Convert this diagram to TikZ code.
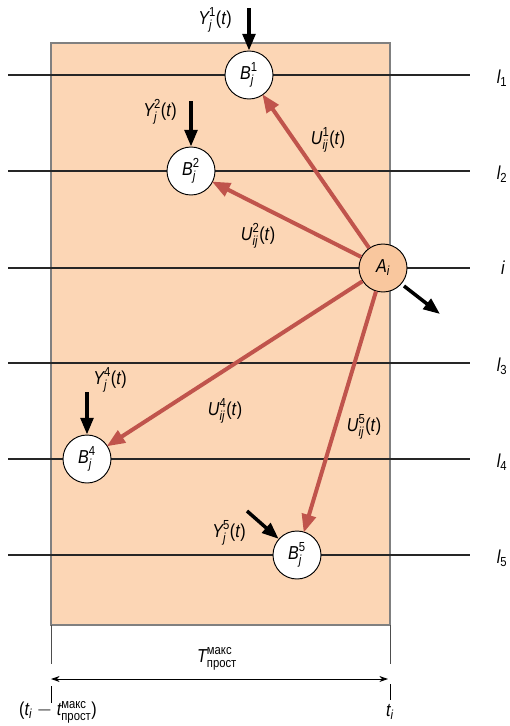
\documentclass[tikz,border=0pt]{standalone}
\usepackage{amsmath}
\usepackage{fontspec}
\setmainfont{Liberation Sans}[FakeStretch=0.86]
\usetikzlibrary{arrows.meta}

\definecolor{peach}{RGB}{252,214,181}
\definecolor{peachdark}{RGB}{249,199,158}
\definecolor{flowred}{RGB}{192,84,76}
\definecolor{framegray}{RGB}{128,128,128}

\newcommand{\vi}[1]{\text{\itshape #1}}
\newcommand{\vu}[1]{\text{\upshape #1}}
\newcommand{\ofT}{\text{(\itshape t\/\upshape)}}

\tikzset{
    levelline/.style={line width=1.2pt, black!85},
    sitenode/.style={circle, draw, line width=0.8pt, fill=white, minimum size=1.44cm, inner sep=0pt, font=\fontsize{16}{18}\selectfont},
    flowarrow/.style={-{Triangle[length=5.5mm, width=4.2mm]}, flowred, line width=3.4pt, shorten >=-1pt},
    inarrow/.style={-{Triangle[length=5mm, width=3.8mm]}, black, line width=3pt},
    lbl/.style={font=\fontsize{16}{18}\selectfont, inner sep=1pt}
}

\begin{document}
\begin{tikzpicture}[x=0.03cm, y=-0.03cm]
        \useasboundingbox (0,0) rectangle (510,726);

        % frame of the idle interval
        \fill[peach] (51,43) rectangle (390,625);
        \draw[framegray, line width=1pt] (51,43) rectangle (390,625);

        % levels
        \draw[levelline] (8,75) -- (470,75);
        \draw[levelline] (8,171) -- (470,171);
        \draw[levelline] (8,268) -- (470,268);
        \draw[levelline] (8,363) -- (470,363);
        \draw[levelline] (8,459) -- (470,459);
        \draw[levelline] (8,555) -- (470,555);

        \node[lbl] (l1) at (502,78) {$\vi{l}_{\vu{1}}$};
        \node[lbl] (l2) at (502,174) {$\vi{l}_{\vu{2}}$};
        \node[lbl] (li) at (503,268) {$\vi{i}$};
        \node[lbl] (l3) at (502,366) {$\vi{l}_{\vu{3}}$};
        \node[lbl] (l4) at (502,462) {$\vi{l}_{\vu{4}}$};
        \node[lbl] (l5) at (502,558) {$\vi{l}_{\vu{5}}$};

        % nodes
        \node[sitenode] (B1) at (249,75) {$\vi{B}^{\vu{1}}_{\vi{j}}$};
        \node[sitenode] (B2) at (191,171) {$\vi{B}^{\vu{2}}_{\vi{j}}$};
        \node[sitenode, fill=peachdark] (A) at (383,268) {$\vi{A}_{\vi{i}}$};
        \node[sitenode] (B4) at (87,459) {$\vi{B}^{\vu{4}}_{\vi{j}}$};
        \node[sitenode] (B5) at (297,555) {$\vi{B}^{\vu{5}}_{\vi{j}}$};

        % flows from A_i
        \draw[flowarrow] (A) -- (B1);
        \draw[flowarrow] (A) -- (B2);
        \draw[flowarrow] (A) -- (B4);
        \draw[flowarrow] (A) -- (B5);

        \node[lbl] (U1) at (328,140) {$\vi{U}^{\vu{1}}_{\vi{ij}}\ofT$};
        \node[lbl] (U2) at (258,236) {$\vi{U}^{\vu{2}}_{\vi{ij}}\ofT$};
        \node[lbl] (U4) at (225,411) {$\vi{U}^{\vu{4}}_{\vi{ij}}\ofT$};
        \node[lbl] (U5) at (364,427) {$\vi{U}^{\vu{5}}_{\vi{ij}}\ofT$};

        % incoming flows
        \coordinate (y1) at (249,8);
        \coordinate (y2) at (191,101);
        \coordinate (y4) at (87,392);
        \coordinate (y5) at (247,511);
        \coordinate (aout) at (404,286);
        \coordinate (aend) at (440,314);
        \draw[inarrow] (y1) -- (B1);
        \draw[inarrow] (y2) -- (B2);
        \draw[inarrow] (y4) -- (B4);
        \draw[inarrow] (y5) -- (B5);
        \draw[inarrow] (aout) -- (aend);

        \node[lbl] (Y1) at (215,20) {$\vi{Y}^{\vu{1}}_{\vi{j}}\ofT$};
        \node[lbl] (Y2) at (160,112) {$\vi{Y}^{\vu{2}}_{\vi{j}}\ofT$};
        \node[lbl] (Y4) at (110,380) {$\vi{Y}^{\vu{4}}_{\vi{j}}\ofT$};
        \node[lbl] (Y5) at (229,533) {$\vi{Y}^{\vu{5}}_{\vi{j}}\ofT$};

        % time axis
        \coordinate (left0) at (51,625);
        \coordinate (left1) at (51,664);
        \coordinate (right0) at (390,625);
        \coordinate (right1) at (390,664);
        \draw[framegray!60!black, line width=0.8pt] (left0) -- (left1);
        \draw[framegray!60!black, line width=0.8pt] (right0) -- (right1);
        \draw[black, line width=0.8pt] (51,686) -- (51,703);
        \draw[black, line width=0.8pt] (390,684) -- (390,700);
        \coordinate (tl) at (51,679);
        \coordinate (tr) at (388,679);
        \draw[{Stealth[length=2.6mm, width=1.8mm]}-{Stealth[length=2.6mm, width=1.8mm]}, line width=0.8pt] (tl) -- (tr);

        \node[lbl] (Tlbl) at (217,659) {$\vi{T}^{\vu{макс}}_{\vu{прост}}$};
        \node[lbl] (tstart) at (58,712) {$\vu{(}\vi{t}_{\vi{i}}-\vi{t}^{\vu{макс}}_{\vu{прост}}\vu{)}$};
        \node[lbl] (tend) at (390,712) {$\vi{t}_{\vi{i}}$};
    \end{tikzpicture}
\end{document}
